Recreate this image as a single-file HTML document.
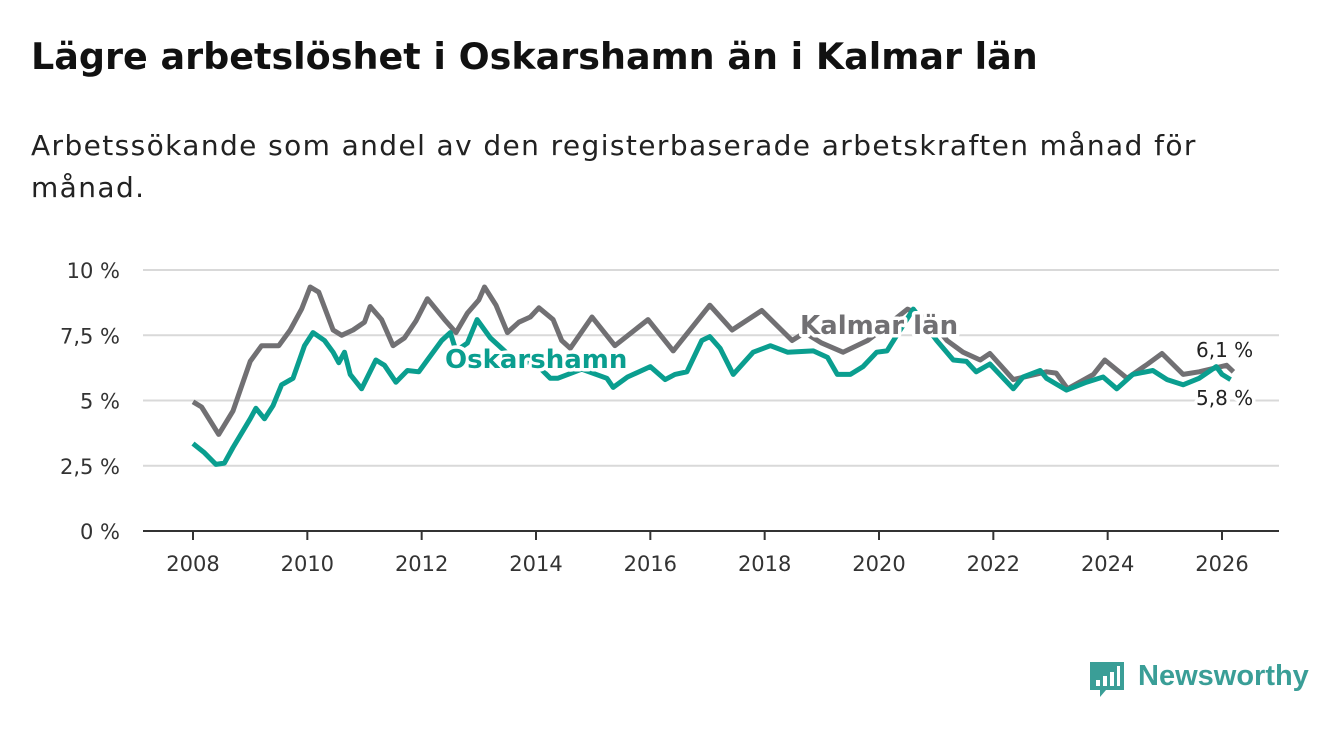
<!DOCTYPE html>
<html><head><meta charset="utf-8">
<style>
body{margin:0;width:1340px;height:734px;background:#fff;font-family:"DejaVu Sans","Liberation Sans",sans-serif;overflow:hidden;position:relative}
h1{position:absolute;left:31px;top:35px;margin:0;font-size:36.5px;font-weight:bold;color:#111;white-space:nowrap}
.sub{position:absolute;left:31px;top:125px;width:1200px;font-size:28px;line-height:42px;letter-spacing:1.4px;color:#222;margin:0}
svg{position:absolute;left:0;top:0}
.logo{position:absolute;left:1138px;top:660px;font-size:29px;color:#3a9e97;font-weight:bold;font-family:"Liberation Sans",sans-serif}
</style></head><body>
<h1>Lägre arbetslöshet i Oskarshamn än i Kalmar län</h1>
<p class="sub">Arbetssökande som andel av den registerbaserade arbetskraften månad för månad.</p>
<svg id="chart" width="1340" height="734"></svg>
<svg width="1340" height="734"><path d="M1090 662h34v28h-18l-6 7v-7h-10z" fill="#3a9e97"/><rect x="1096" y="680" width="4" height="6" fill="#fff"/><rect x="1103" y="676" width="4" height="10" fill="#fff"/><rect x="1110" y="672" width="4" height="14" fill="#fff"/><rect x="1117" y="666" width="3" height="20" fill="#fff"/></svg>
<div class="logo">Newsworthy</div>
<script>
const yTicks=[0,2.5,5,7.5,10];
const yTickLabels=["0 %","2,5 %","5 %","7,5 %","10 %"];
const xTicks=[2008,2010,2012,2014,2016,2018,2020,2022,2024,2026];
const kalmarDates=[2008,2008.15,2008.45,2008.7,2009,2009.2,2009.5,2009.7,2009.9,2010.05,2010.2,2010.45,2010.6,2010.8,2011,2011.1,2011.3,2011.5,2011.7,2011.9,2012.1,2012.4,2012.6,2012.8,2013,2013.1,2013.3,2013.5,2013.7,2013.9,2014.05,2014.3,2014.45,2014.6,2014.98,2015.38,2015.96,2016.4,2017.04,2017.43,2017.95,2018.48,2018.7,2019,2019.37,2019.8,2020.1,2020.5,2020.7,2021,2021.19,2021.47,2021.77,2021.94,2022.35,2022.93,2023.1,2023.3,2023.75,2023.95,2024.34,2024.7,2024.95,2025.32,2025.6,2026.08,2026.2];
const kalmarValues=[4.95,4.75,3.7,4.6,6.5,7.1,7.1,7.7,8.5,9.35,9.15,7.7,7.5,7.7,8.0,8.6,8.1,7.1,7.4,8.05,8.9,8.1,7.6,8.35,8.85,9.35,8.65,7.6,8.0,8.2,8.55,8.1,7.3,7.0,8.2,7.1,8.1,6.9,8.65,7.7,8.45,7.3,7.6,7.2,6.85,7.3,7.8,8.5,8.3,7.8,7.3,6.85,6.55,6.8,5.8,6.1,6.05,5.45,6.0,6.55,5.85,6.4,6.8,6.0,6.1,6.35,6.1];
const oskDates=[2008,2008.2,2008.4,2008.55,2008.7,2009,2009.1,2009.25,2009.4,2009.55,2009.75,2009.95,2010.1,2010.3,2010.45,2010.55,2010.65,2010.75,2010.95,2011.2,2011.35,2011.55,2011.75,2011.95,2012.1,2012.35,2012.5,2012.6,2012.8,2012.97,2013.2,2013.6,2014,2014.25,2014.38,2014.8,2015.24,2015.35,2015.6,2016,2016.26,2016.43,2016.64,2016.9,2017.04,2017.22,2017.45,2017.8,2018.1,2018.4,2018.85,2019.1,2019.27,2019.5,2019.72,2019.96,2020.14,2020.6,2021.01,2021.3,2021.53,2021.7,2021.94,2022.35,2022.52,2022.82,2022.93,2023.28,2023.63,2023.92,2024.16,2024.44,2024.79,2025.04,2025.32,2025.6,2025.9,2026,2026.15];
const oskValues=[3.35,3.0,2.55,2.6,3.2,4.3,4.7,4.3,4.8,5.6,5.85,7.1,7.6,7.3,6.85,6.45,6.85,6.0,5.45,6.55,6.35,5.7,6.15,6.1,6.55,7.3,7.6,6.9,7.2,8.1,7.4,6.6,6.4,5.85,5.85,6.2,5.85,5.5,5.9,6.3,5.8,6.0,6.1,7.3,7.45,7.0,6.0,6.85,7.1,6.85,6.9,6.65,6.0,6.0,6.3,6.85,6.9,8.5,7.3,6.55,6.5,6.1,6.4,5.45,5.9,6.15,5.85,5.4,5.7,5.9,5.45,6.0,6.15,5.8,5.6,5.85,6.3,6.0,5.8];
const NS="http://www.w3.org/2000/svg";
const svg=document.getElementById('chart');
const X=y=>193+(y-2008)*(1222-193)/18;
const Y=v=>531-v*26.1;
function mk(t,a,txt){const e=document.createElementNS(NS,t);for(const k in a)e.setAttribute(k,a[k]);if(txt!=null)e.textContent=txt;svg.appendChild(e);return e;}
yTicks.forEach((t,i)=>{
 const l=mk('line',{x1:143,x2:1279,y1:Y(t),y2:Y(t),stroke:t===0?'#333':'#d9d9d9','stroke-width':2});
 
 
 const tx=mk('text',{x:120,y:Y(t)+8,'text-anchor':'end','font-size':21,fill:'#333'},yTickLabels[i]);
 
 
});
xTicks.forEach(t=>{
 const l=mk('line',{x1:X(t),x2:X(t),y1:531,y2:540,stroke:'#333','stroke-width':2});
 
 
 const tx=mk('text',{x:X(t),y:571,'text-anchor':'middle','font-size':21,fill:'#333'},String(t));
 
 
});
function line(d,v,c,name){
 const p=d.map((y,i)=>(i?'L':'M')+X(y).toFixed(1)+' '+Y(v[i]).toFixed(1)).join('');
 const e=mk('path',{d:p,fill:'none',stroke:c,'stroke-width':5,'stroke-linejoin':'round'});
 
 
}
line(kalmarDates,kalmarValues,'#717073','kalmar-line');
line(oskDates,oskValues,'#0a9e8f','oskarshamn-line');
function lab(x,y,txt,c,name,size,bold){
 const h=mk('text',{x,y,'font-size':size,'font-weight':bold?'bold':'normal',fill:'#fff',stroke:'#fff','stroke-width':7,'stroke-linejoin':'round'},txt);
 
 
 const t=mk('text',{x,y,'font-size':size,'font-weight':bold?'bold':'normal',fill:c},txt);
 
 
}
lab(800,334,'Kalmar län','#717073','kalmar-label',26,true);
lab(445,368,'Oskarshamn','#0a9e8f','oskarshamn-label',26,true);
lab(1196,357,'6,1 %','#222','kalmar-end-value',20,false);
lab(1196,405,'5,8 %','#222','oskarshamn-end-value',20,false);
</script>
</body></html>
